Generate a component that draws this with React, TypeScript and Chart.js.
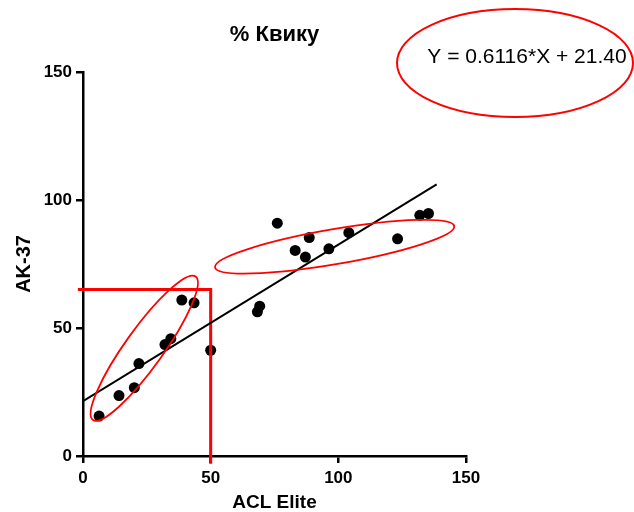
import React, { useEffect, useRef } from "react";
import { Chart, registerables } from "chart.js";

Chart.register(...registerables);

// ---- data ----
const xValues = [6.3, 14.1, 20.1, 21.9, 32.1, 34.4, 38.7, 43.5, 50.0, 68.3, 69.2, 76.1, 83.1, 87.1, 88.6, 96.3, 104.1, 123.2, 131.9, 135.3];
const yValues = [15.6, 23.6, 26.7, 36.1, 43.5, 45.8, 60.9, 59.8, 41.3, 56.3, 58.5, 90.9, 80.3, 77.7, 85.3, 80.9, 87.2, 84.8, 94.0, 94.7];
const fitX = [0, 138.5];
const fitY = [21.4, 106.1];
const cutX = [-2, 50, 50];
const cutY = [65, 65, -3];
const xTicks = [0, 50, 100, 150];
const yTicks = [0, 50, 100, 150];
const lowEllipseX = [3.9, 44.1];
const lowEllipseY = [14.1, 70.1];
const highEllipseX = [51.7, 145.4];
const highEllipseY = [73.7, 89.8];
const titleText = "% Квику";
const xTitle = "ACL Elite";
const yTitle = "AK-37";
const equation = "Y = 0.6116*X + 21.40";

const FONT = "'Liberation Sans', Arial, sans-serif";
const RED = "#ff0000";

const ellipsePlugin = {
  id: "ellipses",
  afterDatasetsDraw(chart: any) {
    const { ctx, scales } = chart;
    const xs = scales.x;
    const ys = scales.y;
    const drawData = (ex: number[], ey: number[], minor: number) => {
      const x1 = xs.getPixelForValue(ex[0]);
      const y1 = ys.getPixelForValue(ey[0]);
      const x2 = xs.getPixelForValue(ex[1]);
      const y2 = ys.getPixelForValue(ey[1]);
      const cx = (x1 + x2) / 2;
      const cy = (y1 + y2) / 2;
      const major = Math.hypot(x2 - x1, y2 - y1) / 2;
      const ang = Math.atan2(y2 - y1, x2 - x1);
      ctx.save();
      ctx.beginPath();
      ctx.ellipse(cx, cy, major, minor, ang, 0, Math.PI * 2);
      ctx.strokeStyle = RED;
      ctx.lineWidth = 1.8;
      ctx.stroke();
      ctx.restore();
    };
    drawData(lowEllipseX, lowEllipseY, 19);
    drawData(highEllipseX, highEllipseY, 17.5);
  },
  afterDraw(chart: any) {
    const { ctx } = chart;
    ctx.save();
    ctx.beginPath();
    ctx.ellipse(515, 63, 118, 54, 0, 0, Math.PI * 2);
    ctx.strokeStyle = RED;
    ctx.lineWidth = 2;
    ctx.stroke();
    ctx.fillStyle = "#000";
    ctx.font = `21px ${FONT}`;
    ctx.textAlign = "center";
    ctx.textBaseline = "middle";
    ctx.fillText(equation, 527, 57);
    ctx.restore();
  },
};

export default function App() {
  const ref = useRef<HTMLCanvasElement>(null);
  useEffect(() => {
    document.body.style.margin = "0";
    if (!ref.current) return;
    Chart.defaults.font.family = FONT;
    const axisCommon = {
      type: "linear" as const,
      min: 0,
      max: 150,
      border: { display: true, color: "#000", width: 2.5 },
      grid: {
        display: true,
        drawOnChartArea: false,
        drawTicks: true,
        tickLength: 7,
        color: "#000",
        lineWidth: 2.5,
      },
    };
    const chart = new Chart(ref.current, {
      type: "scatter",
      data: {
        datasets: [
          {
            type: "line",
            data: fitX.map((x, i) => ({ x, y: fitY[i] })),
            borderColor: "#000",
            borderWidth: 2,
            pointRadius: 0,
            fill: false,
          } as any,
          {
            type: "line",
            data: cutX.map((x, i) => ({ x, y: cutY[i] })),
            borderColor: RED,
            borderWidth: 3,
            pointRadius: 0,
            fill: false,
            clip: false,
          } as any,
          {
            type: "scatter",
            data: xValues.map((x, i) => ({ x, y: yValues[i] })),
            backgroundColor: "#000",
            borderWidth: 0,
            pointRadius: 5.5,
          },
        ],
      },
      options: {
        responsive: false,
        animation: false,
        layout: { padding: { left: 0, right: 168, top: 0, bottom: 0 } },
        plugins: {
          legend: { display: false },
          tooltip: { enabled: false },
          title: {
            display: true,
            text: titleText,
            color: "#000",
            fullSize: false,
            font: { size: 22, weight: "bold", family: FONT },
            padding: { top: 22, bottom: 23.5 },
          },
        },
        scales: {
          x: {
            ...axisCommon,
            position: "bottom",
            afterBuildTicks: (s: any) => {
              s.ticks = xTicks.map((v) => ({ value: v }));
            },
            afterFit: (s: any) => {
              s.height = 56;
            },
            ticks: {
              color: "#000",
              padding: 5,
              maxRotation: 0,
              autoSkip: false,
              font: { size: 17, weight: "bold", family: FONT },
            },
            title: {
              display: true,
              text: xTitle,
              color: "#000",
              padding: 0,
              font: { size: 19, weight: "bold", lineHeight: 1, family: FONT },
            },
          },
          y: {
            ...axisCommon,
            position: "left",
            afterBuildTicks: (s: any) => {
              s.ticks = yTicks.map((v) => ({ value: v }));
            },
            afterFit: (s: any) => {
              s.width = 83;
            },
            ticks: {
              color: "#000",
              padding: 4,
              autoSkip: false,
              font: { size: 17, weight: "bold", family: FONT },
            },
            title: {
              display: true,
              text: yTitle,
              color: "#000",
              padding: { top: 14, bottom: 0, left: 0, right: 0 },
              font: { size: 20, weight: "bold", lineHeight: 1, family: FONT },
            },
          },
        },
      } as any,
      plugins: [ellipsePlugin],
    });
    return () => chart.destroy();
  }, []);
  return (
    <div style={{ width: 634, height: 512 }}>
      <canvas ref={ref} width={634} height={512} style={{ display: "block" }} />
    </div>
  );
}
